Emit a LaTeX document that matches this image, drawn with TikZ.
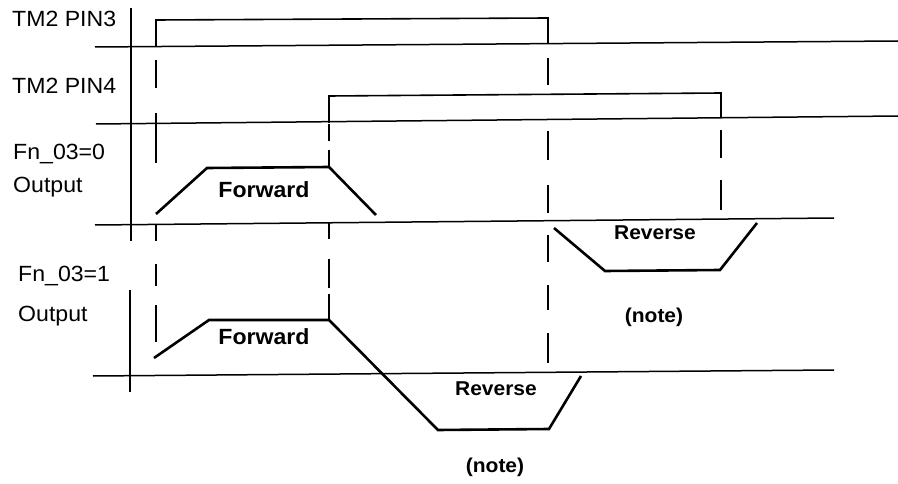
\documentclass[tikz,border=0pt]{standalone}
\usepackage{fontspec}
\setmainfont[FakeStretch=1.05]{Liberation Sans}
\begin{document}
\begin{tikzpicture}[x=1pt,y=-1pt,
  axisline/.style={line width=1.6pt},
  baseline/.style={line width=1.5pt},
  edge/.style={line width=1.6pt, line join=miter},
  wave/.style={line width=2.6pt, line join=miter},
  dashseg/.style={line width=1.6pt},
  lab/.style={inner sep=0pt, anchor=base west, font=\fontsize{22}{26}\selectfont},
  biglab/.style={inner sep=0pt, anchor=base, font=\fontsize{22}{26}\selectfont\bfseries},
  smalllab/.style={inner sep=0pt, anchor=base, font=\fontsize{20}{24}\selectfont\bfseries}]
\useasboundingbox (0,0) rectangle (898,484);

% axes
\draw[axisline] (131,8) -- (131,241);
\draw[axisline] (130,290) -- (130,392);

% baselines
\draw[baseline] (95,47) -- (898,41);
\draw[baseline] (96,124) -- (898,116);
\draw[baseline] (95,225) -- (834,218);
\draw[baseline] (93,376) -- (834,370);

% digital signals
\draw[edge] (156,46) -- (156,20) -- (548,18) -- (548,44);
\draw[edge] (329,123) -- (329,96) -- (721,93) -- (721,117);

% output waveforms
\draw[wave] (156,214) -- (207,168) -- (329,167) -- (376,215);
\draw[wave] (554,228) -- (605,271) -- (720,270) -- (757,223);
\draw[wave] (154,358) -- (209,320) -- (329,320) -- (438,430) -- (549,429) -- (581,376);

% dashed guides x=156
\foreach \a/\b in {60/88,113/163,225/241,264/286,305/342}
  \draw[dashseg] (156,\a) -- (156,\b);
% x=329
\foreach \a/\b in {124/141,150/167,223/239,259/288,294/320}
  \draw[dashseg] (329,\a) -- (329,\b);
% x=548
\foreach \a/\b in {58/85,131/160,185/213,235/262,285/310,333/363}
  \draw[dashseg] (548,\a) -- (548,\b);
% x=721
\foreach \a/\b in {130/158,180/210}
  \draw[dashseg] (721,\a) -- (721,\b);

% labels
\node[lab] (l1) at (12,27) {TM2 PIN3};
\node[lab] (l2) at (12,94) {TM2 PIN4};
\node[lab] (l3) at (13,160) {Fn\_03=0};
\node[lab] (l4) at (13,193) {Output};
\node[lab] (l5) at (18,281) {Fn\_03=1};
\node[lab] (l6) at (18,321) {Output};

\node[biglab] (f1) at (264,198) {Forward};
\node[biglab] (f2) at (264,344) {Forward};
\node[smalllab] (r1) at (655,240) {Reverse};
\node[smalllab] (n1) at (654,322) {(note)};
\node[smalllab] (r2) at (496,395) {Reverse};
\node[smalllab] (n2) at (495,472) {(note)};
\end{tikzpicture}
\end{document}
